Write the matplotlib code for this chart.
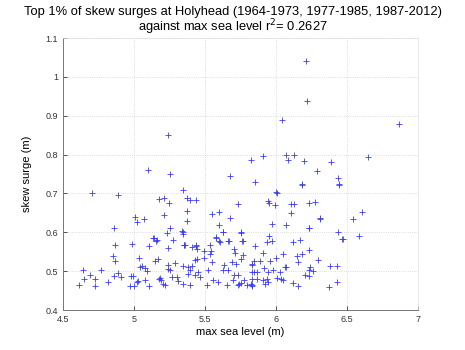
import matplotlib
matplotlib.use("Agg")
import matplotlib.pyplot as plt
from matplotlib.ticker import FuncFormatter

plt.rcParams['font.family'] = ['Liberation Sans', 'DejaVu Sans']

max_sea_level = [
    6.209, 6.216, 6.042, 6.866, 5.242, 6.650, 5.099, 5.254, 5.674, 5.824,
    5.911, 6.068, 6.085, 6.129, 6.199, 6.286, 6.385, 5.852, 6.183, 6.439,
    6.444, 4.706, 4.890, 5.176, 5.211, 5.249, 5.009, 5.019, 5.073, 4.861,
    5.235, 5.209, 5.254, 6.608, 6.540, 6.585, 6.470,
    4.868, 4.984, 4.850, 4.868, 5.035, 5.056, 5.042, 5.077, 5.094, 5.150,
    5.108, 5.136, 5.155, 4.641, 4.770, 4.648, 4.692, 4.727, 4.610, 4.727,
    4.819, 4.861, 4.890, 4.911, 4.991, 4.980, 4.974, 5.000, 5.019, 5.028,
    5.077, 5.108, 5.178,
    5.340, 5.347, 5.242, 5.354, 5.406, 5.446, 5.437, 5.495, 5.537, 5.542,
    5.535, 5.580, 5.599, 5.629, 5.664, 5.763, 5.754, 5.706, 5.765, 5.754,
    5.711, 5.688, 5.720, 5.636, 5.629, 5.664, 5.430, 5.446, 5.495, 5.547,
    5.523, 5.289, 5.237, 5.242, 5.254, 5.167, 5.347, 5.382, 5.406, 5.394,
    5.378, 5.430, 5.465, 5.453, 5.183, 5.188, 5.265, 5.305, 5.312, 5.206,
    5.218, 5.347, 5.394, 5.512, 5.559, 5.594, 5.653, 5.695, 5.735, 5.740,
    5.754, 5.777, 5.794, 5.829, 5.834, 5.833, 5.847, 5.829, 5.847, 5.706,
    5.735,
    6.235, 6.439, 6.467, 5.953, 5.974, 5.934, 5.852, 6.118, 6.169, 6.235,
    5.906, 6.047, 6.181, 6.146, 6.000, 5.958, 5.887, 6.294, 6.157, 5.829,
    5.915, 6.063, 6.068, 6.239, 6.235, 6.263, 6.380, 6.432, 5.829, 5.864,
    5.946, 5.982, 6.028, 5.864, 5.906, 5.934, 6.005, 6.035, 6.051, 5.946,
    5.923, 5.825, 6.204, 6.230, 6.122, 6.153, 6.375, 6.432,
    6.181, 6.444, 6.000, 6.004, 5.944, 5.953, 5.991, 6.106, 6.127, 6.230,
    6.277, 6.106, 6.310, 6.313, 5.970, 6.070, 6.235,
    5.347, 5.376, 5.394, 5.437, 5.730, 5.371, 5.552, 5.599, 5.676, 5.376,
    5.601, 5.343, 5.625, 5.751, 5.272, 5.577, 5.606, 5.671, 5.765, 5.352,
    5.356, 5.437, 5.141, 5.160,
]
skew_surge = [
    1.041, 0.939, 0.889, 0.878, 0.851, 0.793, 0.761, 0.749, 0.744, 0.786,
    0.796, 0.799, 0.786, 0.798, 0.784, 0.757, 0.780, 0.730, 0.723, 0.739,
    0.723, 0.701, 0.697, 0.685, 0.687, 0.675, 0.639, 0.626, 0.635, 0.611,
    0.598, 0.645, 0.611, 0.653, 0.633, 0.590, 0.583,
    0.566, 0.571, 0.540, 0.525, 0.534, 0.514, 0.510, 0.508, 0.500, 0.527,
    0.564, 0.585, 0.577, 0.503, 0.502, 0.480, 0.491, 0.480, 0.465, 0.463,
    0.473, 0.487, 0.495, 0.484, 0.487, 0.488, 0.463, 0.463, 0.473, 0.475,
    0.478, 0.463, 0.480,
    0.603, 0.595, 0.559, 0.566, 0.562, 0.556, 0.564, 0.551, 0.566, 0.553,
    0.545, 0.585, 0.577, 0.601, 0.577, 0.577, 0.602, 0.556, 0.542, 0.532,
    0.547, 0.523, 0.519, 0.516, 0.503, 0.502, 0.529, 0.532, 0.533, 0.523,
    0.503, 0.521, 0.516, 0.506, 0.502, 0.530, 0.514, 0.510, 0.512, 0.502,
    0.493, 0.489, 0.484, 0.497, 0.483, 0.478, 0.484, 0.484, 0.474, 0.467,
    0.465, 0.467, 0.465, 0.465, 0.478, 0.473, 0.465, 0.478, 0.465, 0.466,
    0.470, 0.476, 0.465, 0.463, 0.464, 0.480, 0.497, 0.516, 0.527, 0.489,
    0.490,
    0.611, 0.601, 0.583, 0.590, 0.577, 0.575, 0.564, 0.575, 0.581, 0.555,
    0.547, 0.543, 0.545, 0.538, 0.533, 0.527, 0.527, 0.529, 0.523, 0.519,
    0.509, 0.510, 0.511, 0.510, 0.504, 0.500, 0.514, 0.514, 0.499, 0.499,
    0.499, 0.502, 0.497, 0.480, 0.478, 0.480, 0.483, 0.480, 0.476, 0.471,
    0.467, 0.468, 0.490, 0.487, 0.470, 0.463, 0.460, 0.471,
    0.721, 0.721, 0.704, 0.701, 0.681, 0.675, 0.670, 0.674, 0.674, 0.675,
    0.678, 0.650, 0.635, 0.636, 0.622, 0.618, 0.612,
    0.708, 0.687, 0.683, 0.684, 0.672, 0.654, 0.648, 0.651, 0.638, 0.629,
    0.620, 0.602, 0.601, 0.599, 0.581, 0.588, 0.575, 0.577, 0.577, 0.566,
    0.567, 0.566, 0.586, 0.579,
]

x_ticks = [4.5, 5, 5.5, 6, 6.5, 7]
y_ticks = [0.4, 0.5, 0.6, 0.7, 0.8, 0.9, 1.0, 1.1]
title_line1 = 'Top 1% of skew surges at Holyhead (1964-1973, 1977-1985, 1987-2012)'
title_line2 = 'against max sea level r$^2$= 0.2627'

fig = plt.figure(figsize=(4.65, 3.5), dpi=100)
ax = fig.add_axes([63/465, 1 - 310/350, (418 - 63)/465, (310 - 38)/350])

ax.plot(max_sea_level, skew_surge, linestyle='none', marker='+',
        color='#3a3aff', markersize=5, markeredgewidth=0.6)

ax.set_xlim(4.5, 7)
ax.set_ylim(0.4, 1.1)
ax.set_xticks(x_ticks)
ax.set_yticks(y_ticks)
fmt = FuncFormatter(lambda v, p: ('%g' % round(v, 2)))
ax.xaxis.set_major_formatter(fmt)
ax.yaxis.set_major_formatter(fmt)
ax.tick_params(direction='in', labelsize=6.5, length=3, width=0.6,
               colors='#333333', top=False, right=False)
ax.grid(True, color='#d0d0d0', linestyle=':', linewidth=0.6)
for s in ['left', 'bottom']:
    ax.spines[s].set_color('#777777')
    ax.spines[s].set_linewidth(0.7)
for s in ['top', 'right']:
    ax.spines[s].set_color('#e0e0e0')
    ax.spines[s].set_linewidth(0.5)

ax.set_xlabel('max sea level (m)', fontsize=8, labelpad=2)
ax.set_ylabel('skew surge (m)', fontsize=8, labelpad=10)
fig.text(0.5, 1 - 12/350, title_line1, ha='center', va='center', fontsize=9.3)
fig.text(0.5, 1 - 27.5/350, title_line2, ha='center', va='center', fontsize=9.3)

fig.savefig('out.png', dpi=100)
